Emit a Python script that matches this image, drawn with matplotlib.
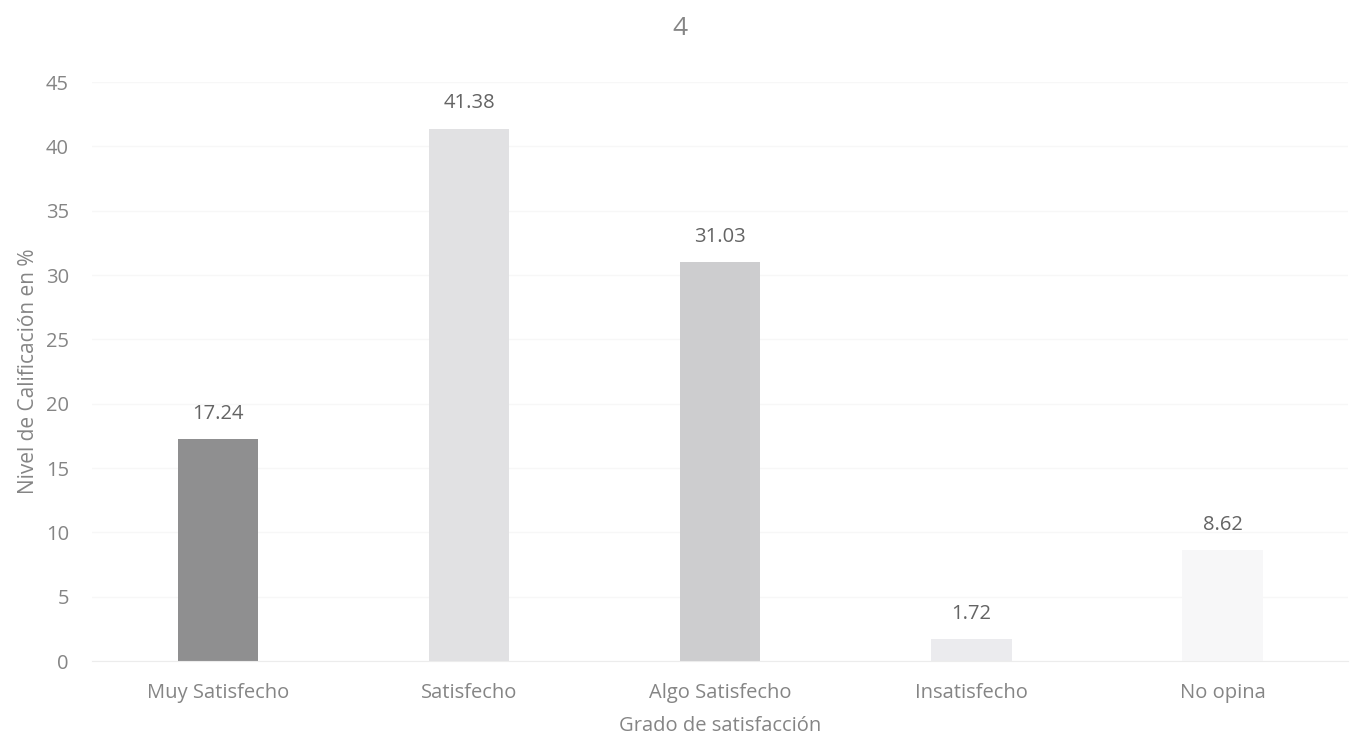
import matplotlib.pyplot as plt

plt.rcParams['font.family'] = ['Open Sans', 'DejaVu Sans']

categorias = ['Muy Satisfecho', 'Satisfecho', 'Algo Satisfecho', 'Insatisfecho', 'No opina']
valores = [17.24, 41.38, 31.03, 1.72, 8.62]
colores = ['#8f8f90', '#e1e1e3', '#cdcdcf', '#ebebee', '#f7f7f8']
yticks = [0, 5, 10, 15, 20, 25, 30, 35, 40, 45]

fig = plt.figure(figsize=(13.59, 7.47), dpi=100)
ax = fig.add_axes([0.068, 0.115, 0.924, 0.775])

x = range(len(categorias))
bars = ax.bar(x, valores, width=0.32, color=colores, zorder=2)

for b, v in zip(bars, valores):
    ax.annotate('%.2f' % v, (b.get_x() + b.get_width() / 2, v),
                xytext=(0, 11), textcoords='offset points',
                ha='center', va='bottom', fontsize=14.5, color='#646464')

ax.set_xlim(-0.5, len(categorias) - 0.5)
ax.set_ylim(0, 45)
ax.set_yticks(yticks)
ax.set_xticks(list(x))
ax.set_xticklabels(categorias)
ax.tick_params(axis='both', length=0, labelsize=14.5, labelcolor='#858585')
ax.tick_params(axis='x', pad=16)
ax.tick_params(axis='y', pad=17)
ax.grid(axis='y', color='#f7f7f7', linewidth=1, zorder=0)

for s in ['top', 'right', 'left']:
    ax.spines[s].set_visible(False)
ax.spines['bottom'].set_color('#ececec')

ax.set_xlabel('Grado de satisfacción', fontsize=14.5, color='#858585', labelpad=9)
ax.set_ylabel('Nivel de Calificación en %', fontsize=15, color='#858585', labelpad=5)
fig.text(0.5, 0.962, '4', ha='center', va='center', fontsize=19, color='#858585')

fig.savefig('out.png', dpi=100)
